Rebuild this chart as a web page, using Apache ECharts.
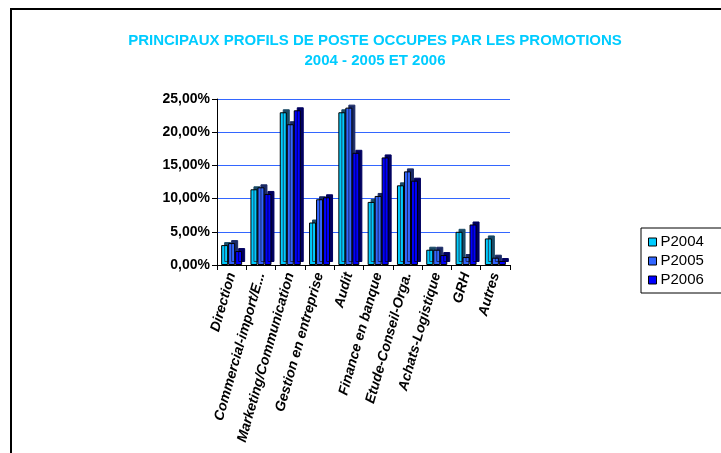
<!DOCTYPE html>
<html>
<head>
<meta charset="utf-8">
<script src="https://cdn.jsdelivr.net/npm/echarts@6/dist/echarts.min.js"></script>
<style>
  html, body { margin: 0; padding: 0; background: #fff; }
  #chart { width: 721px; height: 453px; }
</style>
</head>
<body>
<div id="chart"></div>
<script>
// categories & values (percent)
const categories = ['Direction', 'Commercial-import/E...', 'Marketing/Communication', 'Gestion en entreprise', 'Audit', 'Finance en banque', 'Etude-Conseil-Orga.', 'Achats-Logistique', 'GRH', 'Autres']
const p2004 = [3.0, 11.4, 23.0, 6.4, 23.0, 9.5, 12.0, 2.3, 5.0, 4.0]
const p2005 = [3.3, 11.7, 21.2, 9.9, 23.7, 10.4, 14.1, 2.3, 1.2, 1.1]
const p2006 = [2.1, 10.7, 23.3, 10.2, 16.9, 16.2, 12.7, 1.5, 6.1, 0.6]
const seriesNames = ['P2004', 'P2005', 'P2006']
const yTicks = [0, 5, 10, 15, 20, 25]

const chart = echarts.init(document.getElementById('chart'))

const fmt = (v) => v.toFixed(2).replace('.', ',') + '%'

const makeBar = (name, data, color, side) => ({
  name: name,
  type: 'bar',
  data: data,
  barWidth: 7,
  barGap: '0%',
  itemStyle: {
    color: color,
    borderColor: '#000',
    borderWidth: 1,
    shadowColor: side,
    shadowBlur: 0,
    shadowOffsetX: 3,
    shadowOffsetY: -3
  }
})

const option = {
  backgroundColor: '#fff',
  animation: false,
  textStyle: { fontFamily: 'Arial, "Liberation Sans", sans-serif' },
  title: {
    text: 'PRINCIPAUX PROFILS DE POSTE OCCUPES PAR LES PROMOTIONS\n2004 - 2005 ET 2006',
    left: 370,
    top: 26,
    textAlign: 'center',
    textStyle: {
      color: '#00CCFF',
      fontSize: 15,
      fontWeight: 'bold',
      lineHeight: 20,
      fontFamily: 'Arial, "Liberation Sans", sans-serif'
    }
  },
  legend: {
    orient: 'vertical',
    left: 641,
    top: 228,
    padding: [6, 30, 5, 7],
    borderColor: '#000',
    borderWidth: 1,
    itemWidth: 8,
    itemHeight: 8,
    itemGap: 3,
    icon: 'rect',
    itemStyle: { borderColor: '#000', borderWidth: 1 },
    textStyle: { fontSize: 15, lineHeight: 16, color: '#000', padding: [0, 0, 0, -1] },
    data: seriesNames
  },
  grid: {
    left: 217,
    right: 211,
    top: 99,
    bottom: 188
  },
  xAxis: {
    type: 'category',
    data: categories,
    axisLine: { lineStyle: { color: '#000', width: 1 } },
    axisTick: { show: true, length: 5, lineStyle: { color: '#000' } },
    axisLabel: {
      interval: 0,
      rotate: 74,
      margin: 8,
      color: '#000',
      fontSize: 14,
      fontWeight: 'bold',
      fontStyle: 'italic'
    }
  },
  yAxis: {
    type: 'value',
    min: yTicks[0],
    max: yTicks[yTicks.length - 1],
    interval: 5,
    axisLine: { show: true, lineStyle: { color: '#000', width: 1 } },
    axisTick: { show: true, length: 5, lineStyle: { color: '#000' } },
    axisLabel: {
      formatter: fmt,
      color: '#000',
      fontSize: 14,
      fontWeight: 'bold',
      margin: 7
    },
    splitLine: { lineStyle: { color: '#3366FF', width: 1 } }
  },
  series: [
    makeBar('P2004', p2004, '#00CCFF', '#1a4a66'),
    makeBar('P2005', p2005, '#3366FF', '#1a2a66'),
    makeBar('P2006', p2006, '#0000FF', '#000060')
  ],
  graphic: [
    {
      type: 'rect',
      shape: { x: 11, y: 9, width: 760, height: 500 },
      style: { fill: 'none', stroke: '#000', lineWidth: 2 },
      silent: true
    }
  ]
}

chart.setOption(option)
</script>
</body>
</html>
